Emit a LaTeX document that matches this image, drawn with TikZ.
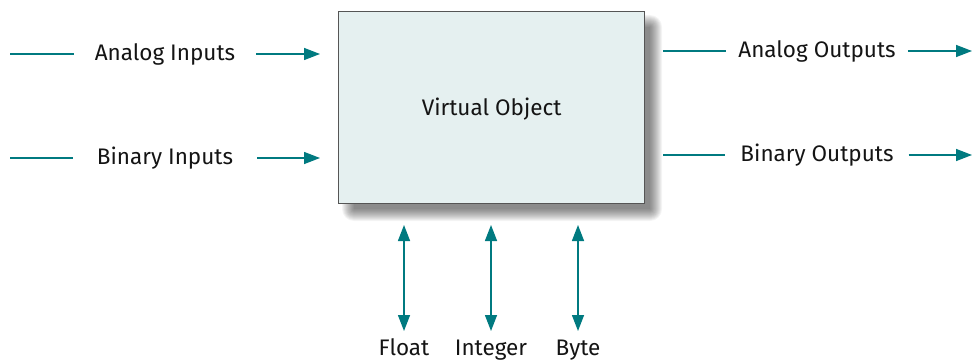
\documentclass[tikz,border=0pt]{standalone}
\usepackage{fontspec}
\setmainfont{Fira Sans}
\usetikzlibrary{arrows.meta}
\definecolor{teal1}{HTML}{007A80}
\definecolor{boxfill}{HTML}{E5F0F0}
\definecolor{boxline}{HTML}{555555}
\tikzset{
  conn/.style={draw=teal1, line width=1.4pt},
  arr/.style={conn, -{Triangle[length=16pt,width=12pt]}},
  darr/.style={conn, {Triangle[length=16pt,width=12pt]}-{Triangle[length=16pt,width=12pt]}},
  lbl/.style={inner xsep=0pt, inner ysep=0pt, font=\fontsize{22.5}{26}\selectfont, text=black!92},
  vobox/.style={draw=boxline, line width=1.2pt, fill=boxfill},
  shadowlayer/.style={fill=black, opacity=0.042},
}
\begin{document}
\begin{tikzpicture}[x=1pt,y=-1pt]
\useasboundingbox (0,0) rectangle (972,361);
\fill[white] (0,0) rectangle (972,361);
% soft shadow
\foreach \r in {0,1,...,12}{
  \fill[shadowlayer, rounded corners=\r pt] (354-\r,27-\r) rectangle (650+\r,209+\r);
}
\node[vobox, minimum width=306pt, minimum height=192pt, anchor=north west] (box) at (338,11) {};
\node[lbl] (vo) at ([yshift=-2pt]box.center) {Virtual Object};
% inputs
\node[lbl] (ai) at (165,54) {Analog Inputs};
\node[lbl] (bi) at (165,158) {Binary Inputs};
\coordinate (ais) at (10,54);
\coordinate (bis) at (10,158);
\coordinate (aie) at (320,54);
\coordinate (bie) at (320,158);
\draw[conn] (ais) -- ([xshift=-21pt]ai.west);
\draw[arr] ([xshift=21pt]ai.east) -- (aie);
\draw[conn] (bis) -- ([xshift=-24pt]bi.west|-bis);
\draw[arr] ([xshift=24pt]bi.east|-bie) -- (bie);
% outputs
\node[lbl] (ao) at (817,51) {Analog Outputs};
\node[lbl] (bo) at (817,155) {Binary Outputs};
\coordinate (aos) at (663,51);
\coordinate (bos) at (663,155);
\coordinate (aoe) at (972,51);
\coordinate (boe) at (972,155);
\draw[conn] (aos) -- ([xshift=-12pt]ao.west|-aos);
\draw[arr] ([xshift=12pt]ao.east|-aoe) -- (aoe);
\draw[conn] (bos) -- ([xshift=-15pt]bo.west|-bos);
\draw[arr] ([xshift=15pt]bo.east|-boe) -- (boe);
% bottom
\node[lbl, anchor=base] (fl) at (404,355) {Float};
\node[lbl, anchor=base] (in) at (491,355) {Integer};
\node[lbl, anchor=base] (by) at (578,355) {Byte};
\foreach \n/\x in {fl/404,in/491,by/578}{
  \coordinate (\n t) at (\x,225);
  \coordinate (\n b) at (\x,331);
  \draw[darr] (\n t) -- (\n b);
}
\end{tikzpicture}
\end{document}
